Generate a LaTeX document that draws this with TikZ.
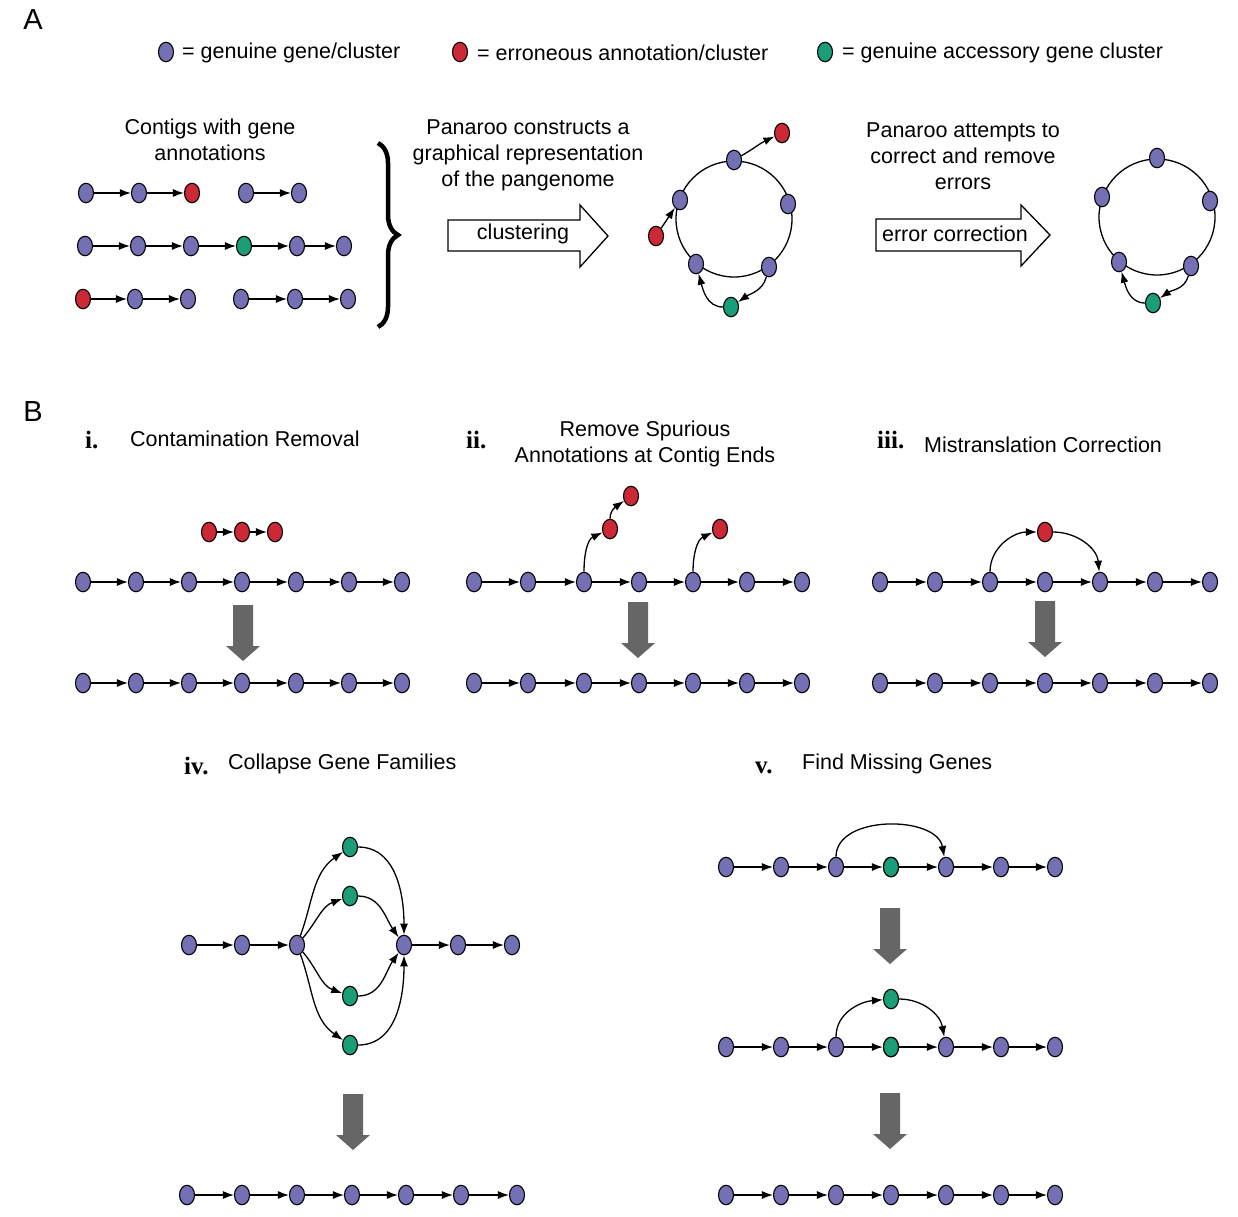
\documentclass[tikz,border=0pt]{standalone}
\usepackage{fontspec}
\setmainfont{Liberation Sans}
\newfontfamily\numfont{Liberation Serif}
\usetikzlibrary{shapes.geometric,arrows.meta,decorations.pathreplacing}
\definecolor{gpurple}{HTML}{7570B3}
\definecolor{gred}{HTML}{CC2936}
\definecolor{ggreen}{HTML}{1B9E77}
\definecolor{ggray}{HTML}{666666}
\newcommand{\grayarrowat}[2]{%
  \fill[ggray] (#1-10,#2) -- (#1+10,#2) -- (#1+10,#2+41) -- (#1+17,#2+41) -- (#1,#2+56) -- (#1-17,#2+41) -- (#1-10,#2+41) -- cycle;}
\begin{document}
\begin{tikzpicture}[x=1pt,y=-1pt,
  gnode/.style={ellipse,draw=black,line width=1.1pt,minimum width=15pt,minimum height=19.5pt,inner sep=0pt},
  gp/.style={gnode,fill=gpurple},
  gr/.style={gnode,fill=gred},
  gg/.style={gnode,fill=ggreen},
  edge/.style={-{Latex[length=11pt,width=8pt]},line width=1.3pt},
  lbl/.style={font=\fontsize{21.5}{26}\selectfont, inner sep=0pt, align=center},
  num/.style={font=\fontsize{25}{26}\selectfont\numfont\bfseries, inner sep=0pt},
  panel/.style={font=\fontsize{29}{32}\selectfont, inner sep=0pt},
  blockarrow/.style={draw=black,line width=1.3pt,fill=white}
]
\fill[white] (0,0) rectangle (1238,1216);
\useasboundingbox (0,0) rectangle (1238,1216);

% ---------- Panel A ----------
\node[panel] (pA) at (33,20) {A};
\node[gp] (lg1) at (166,52) {};
\node[lbl,anchor=west] (lt1) at (182,53) {= genuine gene/cluster};
\node[gr] (lg2) at (460,52) {};
\node[lbl,anchor=west] (lt2) at (477,53) {= erroneous annotation/cluster};
\node[gg] (lg3) at (825,52) {};
\node[lbl,anchor=west] (lt3) at (842,53) {= genuine accessory gene cluster};

\node[lbl] (tcont) at (210,140) {Contigs with gene\\annotations};

% contig rows
\node[gp] (a1) at (86,193) {};
\node[gp] (a2) at (139,193) {};
\node[gr] (a3) at (192,193) {};
\node[gp] (a4) at (246,193) {};
\node[gp] (a5) at (299,193) {};
\draw[edge] (a1) -- (a2); \draw[edge] (a2) -- (a3); \draw[edge] (a4) -- (a5);
\node[gp] (b1) at (85,246) {};
\node[gp] (b2) at (138,246) {};
\node[gp] (b3) at (191,246) {};
\node[gg] (b4) at (244,246) {};
\node[gp] (b5) at (297,246) {};
\node[gp] (b6) at (344,246) {};
\draw[edge] (b1) -- (b2); \draw[edge] (b2) -- (b3); \draw[edge] (b3) -- (b4);
\draw[edge] (b4) -- (b5); \draw[edge] (b5) -- (b6);
\node[gr] (d1) at (83,299) {};
\node[gp] (d2) at (135,299) {};
\node[gp] (d3) at (188,299) {};
\node[gp] (d4) at (241,299) {};
\node[gp] (d5) at (295,299) {};
\node[gp] (d6) at (348,299) {};
\draw[edge] (d1) -- (d2); \draw[edge] (d2) -- (d3);
\draw[edge] (d4) -- (d5); \draw[edge] (d5) -- (d6);

\draw[line width=4.5pt,decorate,decoration={brace,amplitude=20pt}] (378,143) -- (378,327);

\node[lbl] (tcons) at (528,155) {Panaroo constructs a\\graphical representation\\of the pangenome};
\draw[blockarrow] (448,220) -- (580,220) -- (580,205) -- (608,236) -- (580,267) -- (580,251) -- (448,251) -- cycle;
\node[lbl] (tclu) at (523,234) {clustering};

% circle 1
\draw[line width=1.3pt] (734,219) circle[radius=58pt];
\node[gp] (c1t) at (734,160) {};
\node[gp] (c1r) at (788,204) {};
\node[gp] (c1l) at (680,200) {};
\node[gp] (c1bl) at (696,264) {};
\node[gp] (c1br) at (769,267) {};
\node[gr] (c1x) at (782,133) {};
\node[gr] (c1y) at (656,236) {};
\node[gg] (c1g) at (731,307) {};
\draw[edge] (c1t) to[out=30,in=205] (c1x);
\draw[edge] (c1y) -- (c1l);
\draw[edge] (c1br) to[out=-105,in=35] (c1g);
\draw[edge] (c1g) to[out=180,in=-75] (c1bl);

\node[lbl] (tatt) at (963,156) {Panaroo attempts to\\correct and remove\\errors};
\draw[blockarrow] (876,219) -- (1021,219) -- (1021,205) -- (1050,235) -- (1021,266) -- (1021,251) -- (876,251) -- cycle;
\node[lbl] (terr) at (955,234) {error correction};

% circle 2
\draw[line width=1.3pt] (1157,217) circle[radius=58pt];
\node[gp] (c2t) at (1157,158) {};
\node[gp] (c2l) at (1102,197) {};
\node[gp] (c2r) at (1210,201) {};
\node[gp] (c2bl) at (1119,262) {};
\node[gp] (c2br) at (1191,266) {};
\node[gg] (c2g) at (1153,303) {};
\draw[edge] (c2br) to[out=-105,in=35] (c2g);
\draw[edge] (c2g) to[out=180,in=-75] (c2bl);

% ---------- Panel B ----------
\node[panel] (pB) at (33,412) {B};

% i
\node[num,anchor=west] (ni) at (85,440) {i.};
\node[lbl,anchor=west] (ti) at (130,439) {Contamination Removal};
\node[gr] (ir1) at (209,532) {};
\node[gr] (ir2) at (242,532) {};
\node[gr] (ir3) at (275,532) {};
\draw[edge] (ir1) -- (ir2); \draw[edge] (ir2) -- (ir3);
\foreach \x [count=\k] in {83,136,189,242,296,349,402} {
  \node[gp] (i\k) at (\x,582) {};
  \node[gp] (ib\k) at (\x,683) {};
}
\foreach \k in {1,...,6} {\pgfmathtruncatemacro\kk{\k+1}
  \draw[edge] (i\k) -- (i\kk); \draw[edge] (ib\k) -- (ib\kk);}
\grayarrowat{243}{605}

% ii
\node[num,anchor=west] (nii) at (466,440) {ii.};
\node[lbl] (tii) at (645,444) {Remove Spurious\\Annotations at Contig Ends};
\foreach \x [count=\k] in {474,528,584,639,693,747,802} {
  \node[gp] (j\k) at (\x,582) {};
  \node[gp] (jb\k) at (\x,683) {};
}
\foreach \k in {1,...,6} {\pgfmathtruncatemacro\kk{\k+1}
  \draw[edge] (j\k) -- (j\kk); \draw[edge] (jb\k) -- (jb\kk);}
\node[gr] (jr1) at (610,529) {};
\node[gr] (jr2) at (631,496) {};
\node[gr] (jr3) at (720,529) {};
\draw[edge] (j3) to[out=90,in=205] (jr1);
\draw[edge] (jr1) to[out=90,in=215] (jr2);
\draw[edge] (j5) to[out=90,in=205] (jr3);
\grayarrowat{638}{602}

% iii
\node[num,anchor=west] (niii) at (877,440) {iii.};
\node[lbl,anchor=west] (tiii) at (924,445) {Mistranslation Correction};
\foreach \x [count=\k] in {880,935,990,1045,1100,1155,1210} {
  \node[gp] (k\k) at (\x,582) {};
  \node[gp] (kb\k) at (\x,683) {};
}
\foreach \k in {1,...,6} {\pgfmathtruncatemacro\kk{\k+1}
  \draw[edge] (k\k) -- (k\kk); \draw[edge] (kb\k) -- (kb\kk);}
\node[gr] (kr) at (1045,532) {};
\draw[edge] (k3) to[out=90,in=180] (kr);
\draw[edge] (kr) to[out=0,in=95] (k5);
\grayarrowat{1045}{601}

% iv
\node[num,anchor=west] (niv) at (184,766) {iv.};
\node[lbl,anchor=west] (tiv) at (228,764) {Collapse Gene Families};
\foreach \x [count=\k] in {189,242,297,404,458,512} {
  \node[gp] (m\k) at (\x,945) {};
}
\draw[edge] (m1) -- (m2); \draw[edge] (m2) -- (m3);
\draw[edge] (m4) -- (m5); \draw[edge] (m5) -- (m6);
\node[gg] (g1) at (350,847) {};
\node[gg] (g2) at (350,896) {};
\node[gg] (g3) at (350,996) {};
\node[gg] (g4) at (350,1045) {};
\draw[edge] (m3) to[out=70,in=215] (g1);
\draw[edge] (m3) to[out=50,in=200] (g2);
\draw[edge] (m3) to[out=-50,in=160] (g3);
\draw[edge] (m3) to[out=-70,in=145] (g4);
\draw[edge] (g1) to[out=0,in=90] (m4);
\draw[edge] (g2) to[out=0,in=125] (m4);
\draw[edge] (g3) to[out=0,in=235] (m4);
\draw[edge] (g4) to[out=0,in=270] (m4);
\grayarrowat{353}{1094}
\foreach \x [count=\k] in {187,242,297,352,406,461,517} {
  \node[gp] (mb\k) at (\x,1195) {};
}
\foreach \k in {1,...,6} {\pgfmathtruncatemacro\kk{\k+1}
  \draw[edge] (mb\k) -- (mb\kk);}

% v
\node[num,anchor=west] (nv) at (755,768) {v.};
\node[lbl,anchor=west] (tv) at (802,764) {Find Missing Genes};
\foreach \x [count=\k] in {726,781,836,891,946,1001,1055} {
  \node[gp] (v\k) at (\x,867) {};
  \node[gp] (w\k) at (\x,1047) {};
  \node[gp] (u\k) at (\x,1195) {};
}
\node[gg] (v4) at (891,867) {};
\node[gg] (w4) at (891,1047) {};
\node[gg] (wx) at (891,999) {};
\foreach \k in {1,...,6} {\pgfmathtruncatemacro\kk{\k+1}
  \draw[edge] (v\k) -- (v\kk); \draw[edge] (w\k) -- (w\kk); \draw[edge] (u\k) -- (u\kk);}
\draw[edge] (v3) to[out=90,in=100] (v5);
\draw[edge] (w3) to[out=90,in=185] (wx);
\draw[edge] (wx) to[out=0,in=100] (w5);
\grayarrowat{890}{908}
\grayarrowat{890}{1093}
\end{tikzpicture}
\end{document}
